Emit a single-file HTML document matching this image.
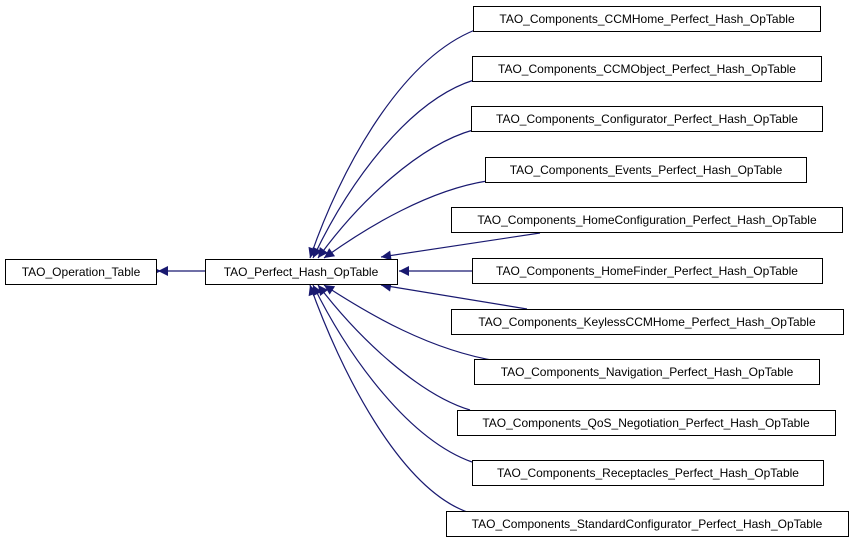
<!DOCTYPE html>
<html><head><meta charset="utf-8"><style>
html,body{margin:0;padding:0;background:#fff;}
svg{display:block;}
text{font-family:"Liberation Sans",sans-serif;font-size:12px;fill:#000;}
</style></head><body>
<svg width="853" height="544" viewBox="0 0 853 544" xmlns="http://www.w3.org/2000/svg">
<defs>
<marker id="a" viewBox="0 0 10 10" refX="10" refY="5" markerWidth="12" markerHeight="10" markerUnits="userSpaceOnUse" orient="auto">
<path d="M0,0 L10,5 L0,10 z" fill="#191970"/>
</marker>
</defs>
<g fill="none" stroke="#191970" stroke-width="1.2" marker-end="url(#a)">
<path d="M156,271 L161,271" />
<path d="M205,271 L158,271" />
<path d="M475,30 C400,60 340,170 310,258"/>
<path d="M474,80 C410,100 350,180 313,258"/>
<path d="M473,130 C420,145 360,200 318,258"/>
<path d="M487,181 C430,190 370,225 324,258"/>
<path d="M540,233 L381,257"/>
<path d="M472,271 L399,271"/>
<path d="M527,309 L381,285"/>
<path d="M497,361 C430,350 370,315 324,285"/>
<path d="M470,410 C420,395 360,340 318,285"/>
<path d="M472,462 C410,440 350,360 313,285"/>
<path d="M470,513 C400,490 340,370 310,285"/>
</g>
<g fill="#fff" stroke="#000" stroke-width="1">
<rect x="5.5" y="259.5" width="151" height="25"/>
<rect x="205.5" y="259.5" width="192" height="25"/>
<rect x="473.5" y="6.5" width="347" height="25"/>
<rect x="472.5" y="56.5" width="349" height="25"/>
<rect x="471.5" y="106.5" width="351" height="25"/>
<rect x="485.5" y="157.5" width="321" height="25"/>
<rect x="451.5" y="207.5" width="391" height="25"/>
<rect x="472.5" y="258.5" width="350" height="25"/>
<rect x="451.5" y="309.5" width="392" height="25"/>
<rect x="474.5" y="359.5" width="345" height="25"/>
<rect x="457.5" y="410.5" width="378" height="25"/>
<rect x="472.5" y="460.5" width="351" height="25"/>
<rect x="446.5" y="511.5" width="402" height="25"/>
</g>
<g text-anchor="middle">
<text x="81" y="276">TAO_Operation_Table</text>
<text x="301" y="276">TAO_Perfect_Hash_OpTable</text>
<text x="647" y="23">TAO_Components_CCMHome_Perfect_Hash_OpTable</text>
<text x="647" y="73">TAO_Components_CCMObject_Perfect_Hash_OpTable</text>
<text x="647" y="123">TAO_Components_Configurator_Perfect_Hash_OpTable</text>
<text x="646" y="174">TAO_Components_Events_Perfect_Hash_OpTable</text>
<text x="647" y="224">TAO_Components_HomeConfiguration_Perfect_Hash_OpTable</text>
<text x="647" y="275">TAO_Components_HomeFinder_Perfect_Hash_OpTable</text>
<text x="647" y="326">TAO_Components_KeylessCCMHome_Perfect_Hash_OpTable</text>
<text x="647" y="376">TAO_Components_Navigation_Perfect_Hash_OpTable</text>
<text x="646" y="427">TAO_Components_QoS_Negotiation_Perfect_Hash_OpTable</text>
<text x="648" y="477">TAO_Components_Receptacles_Perfect_Hash_OpTable</text>
<text x="647" y="528">TAO_Components_StandardConfigurator_Perfect_Hash_OpTable</text>
</g>
</svg>
</body></html>
